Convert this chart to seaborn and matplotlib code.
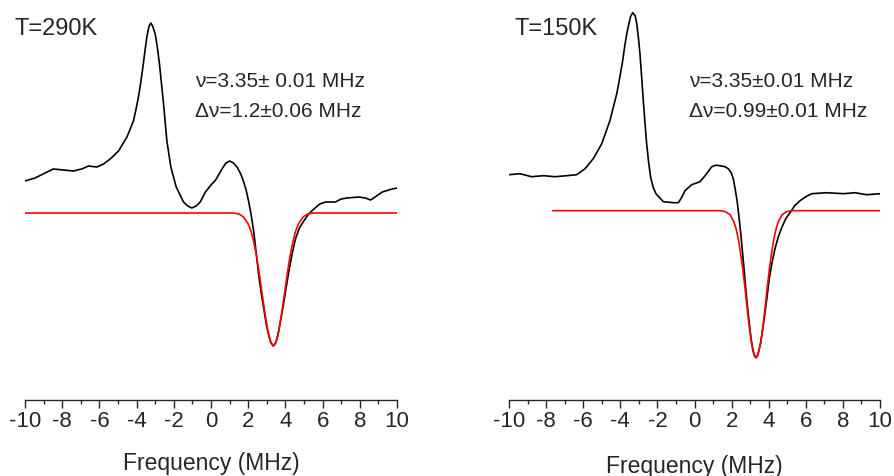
import seaborn as sns
import matplotlib.pyplot as plt
from matplotlib.ticker import MultipleLocator

sns.set_style("ticks")
plt.rcParams['font.family'] = ['Liberation Sans', 'DejaVu Sans']
plt.rcParams['axes.unicode_minus'] = False

# --- T = 290 K : measured spectrum (black) and gaussian fit (red), arb. units
freq_290 = [-10.00, -9.46, -8.92, -8.48, -7.94, -7.40, -6.95, -6.59, -6.14, -5.78,
            -5.42, -4.97, -4.52, -4.17, -4.04, -3.90, -3.78, -3.66, -3.55, -3.45,
            -3.33, -3.23, -3.12, -3.00, -2.88, -2.77, -2.66, -2.55, -2.46, -2.37,
            -2.16, -1.87, -1.48, -1.25, -1.03, -0.80,
            -0.58, -0.30, 0.00, 0.25, 0.59, 0.80, 1.00, 1.20, 1.40, 1.60,
            1.76, 1.90, 2.03, 2.17, 2.30, 2.43, 2.57, 2.70, 2.84, 2.97,
            3.11, 3.23, 3.35, 3.47, 3.59, 3.73, 3.88, 4.03, 4.18, 4.36,
            4.54, 4.75, 4.99, 5.25, 5.53, 5.85, 6.16, 6.69, 7.00, 7.32,
            7.95, 8.30, 8.58, 8.90, 9.21, 9.74, 10.00]
signal_290 = [0.32, 0.35, 0.40, 0.44, 0.43, 0.42, 0.44, 0.47, 0.46, 0.49,
              0.54, 0.62, 0.76, 0.92, 1.03, 1.16, 1.30, 1.46, 1.62, 1.76,
              1.87, 1.90, 1.86, 1.79, 1.65, 1.49, 1.29, 1.09, 0.90, 0.72,
              0.46, 0.26, 0.11, 0.07, 0.05, 0.07,
              0.11, 0.21, 0.28, 0.33, 0.44, 0.50, 0.52, 0.50, 0.46, 0.39,
              0.31, 0.22, 0.11, -0.03, -0.19, -0.40, -0.63, -0.80, -0.96, -1.11,
              -1.23, -1.30, -1.33, -1.30, -1.23, -1.09, -0.93, -0.76, -0.59, -0.41,
              -0.26, -0.15, -0.08, -0.01, 0.04, 0.09, 0.11, 0.11, 0.14, 0.15,
              0.16, 0.15, 0.13, 0.17, 0.21, 0.24, 0.25]
fit_freq_290 = [-10.0, 1.20, 1.50, 1.75, 2.00, 2.15, 2.30, 2.45, 2.60, 2.75,
                2.90, 3.05, 3.20, 3.35, 3.50, 3.65, 3.80, 3.95, 4.10, 4.25,
                4.40, 4.55, 4.70, 4.95, 5.20, 5.50, 10.0]
fit_290 = [0.00, 0.00, -0.01, -0.04, -0.11, -0.18, -0.29, -0.43, -0.61, -0.81,
           -1.00, -1.17, -1.29, -1.33, -1.29, -1.17, -1.00, -0.81, -0.61, -0.43,
           -0.29, -0.18, -0.11, -0.04, -0.01, 0.00, 0.00]

# --- T = 150 K
freq_150 = [-10.00, -9.41, -8.78, -8.15, -7.52, -6.89, -6.35, -5.90, -5.46, -5.00,
            -4.56, -4.19, -4.03, -3.87, -3.75, -3.62, -3.45, -3.33, -3.20, -3.12,
            -3.03, -2.94, -2.85, -2.76, -2.67, -2.58, -2.47, -2.36, -2.22, -2.08,
            -1.68, -1.14, -0.87, -0.70, -0.51, -0.15, 0.30,
            0.57, 0.93, 1.15, 1.37, 1.64, 1.82, 1.98, 2.09, 2.20, 2.31,
            2.40, 2.49, 2.58, 2.67, 2.76, 2.85, 2.95, 3.05, 3.15, 3.25,
            3.32, 3.40, 3.48, 3.57, 3.68, 3.80, 3.92, 4.03, 4.18, 4.34,
            4.52, 4.70, 4.92, 5.15, 5.40, 5.69, 6.00, 6.32, 7.13, 8.02,
            8.65, 9.28, 10.00]
signal_150 = [0.36, 0.37, 0.34, 0.35, 0.34, 0.35, 0.36, 0.42, 0.52, 0.67,
              0.90, 1.17, 1.33, 1.50, 1.66, 1.80, 1.94, 1.98, 1.95, 1.88,
              1.74, 1.57, 1.34, 1.10, 0.88, 0.67, 0.48, 0.33, 0.23, 0.17,
              0.09, 0.08, 0.08, 0.13, 0.20, 0.26, 0.29,
              0.35, 0.44, 0.455, 0.45, 0.44, 0.42, 0.38, 0.32, 0.21, 0.08,
              -0.07, -0.22, -0.40, -0.58, -0.77, -0.95, -1.12, -1.28, -1.40, -1.46,
              -1.47, -1.45, -1.39, -1.32, -1.18, -1.02, -0.85, -0.68, -0.52, -0.38,
              -0.26, -0.17, -0.08, -0.02, 0.05, 0.10, 0.14, 0.17, 0.18, 0.17,
              0.18, 0.16, 0.17]
fit_freq_150 = [-7.64, 1.42, 1.67, 1.92, 2.12, 2.24, 2.36, 2.48, 2.60, 2.72,
                2.84, 2.96, 3.08, 3.20, 3.32, 3.44, 3.56, 3.68, 3.80, 3.92,
                4.04, 4.16, 4.28, 4.40, 4.52, 4.72, 4.97, 5.22, 10.0]
fit_150 = [0.00, 0.00, -0.01, -0.04, -0.11, -0.18, -0.28, -0.42, -0.58, -0.77,
           -0.98, -1.17, -1.33, -1.43, -1.47, -1.43, -1.33, -1.17, -0.98, -0.77,
           -0.58, -0.42, -0.28, -0.18, -0.11, -0.04, -0.01, 0.00, 0.00]

titles = ['T=290K', 'T=150K']
notes = [['\u03bd=3.35\u00b1 0.01 MHz', '\u0394\u03bd=1.2\u00b10.06 MHz'],
         ['\u03bd=3.35\u00b10.01 MHz', '\u0394\u03bd=0.99\u00b10.01 MHz']]
xticks = [-10, -8, -6, -4, -2, 0, 2, 4, 6, 8, 10]

W, H = 895, 477
fig = plt.figure(figsize=(W / 100, H / 100), dpi=100)

panels = [
    dict(x0=25, x1=397, ylim=(-1.87, 2.09), f=freq_290, s=signal_290,
         ff=fit_freq_290, fv=fit_290, title=titles[0], note=notes[0],
         tx=15, nx=195, lpad=14),
    dict(x0=509, x1=880, ylim=(-1.893, 2.067), f=freq_150, s=signal_150,
         ff=fit_freq_150, fv=fit_150, title=titles[1], note=notes[1],
         tx=515, nx=689, lpad=16),
]

top, bottom = 5, 401
for p in panels:
    ax = fig.add_axes([p['x0'] / W, 1 - bottom / H,
                       (p['x1'] - p['x0']) / W, (bottom - top) / H])
    sns.lineplot(x=p['f'], y=p['s'], color='black', lw=1.2,
                 estimator=None, sort=False, ax=ax)
    sns.lineplot(x=p['ff'], y=p['fv'], color='#ff0000', lw=1.2,
                 estimator=None, sort=False, ax=ax)
    ax.set_xlim(-10, 10)
    ax.set_ylim(*p['ylim'])
    ax.set_xticks(xticks)
    ax.xaxis.set_minor_locator(MultipleLocator(1))
    ax.set_yticks([])
    ax.set_ylabel('')
    sns.despine(ax=ax, left=True)
    ax.spines['bottom'].set_linewidth(1.0)
    ax.tick_params(axis='x', which='major', direction='out', length=5.5,
                   width=1.0, labelsize=16, pad=2)
    ax.tick_params(axis='x', which='minor', direction='out', length=3,
                   width=1.0)
    ax.set_xlabel('Frequency (MHz)', fontsize=16.5, labelpad=p['lpad'])

    fig.text(p['tx'] / W, 1 - 35 / H, p['title'], fontsize=17, va='baseline')
    fig.text(p['nx'] / W, 1 - 87 / H, p['note'][0], fontsize=15, va='baseline')
    fig.text(p['nx'] / W, 1 - 117 / H, p['note'][1], fontsize=15, va='baseline')

fig.savefig('out.png', dpi=100)
